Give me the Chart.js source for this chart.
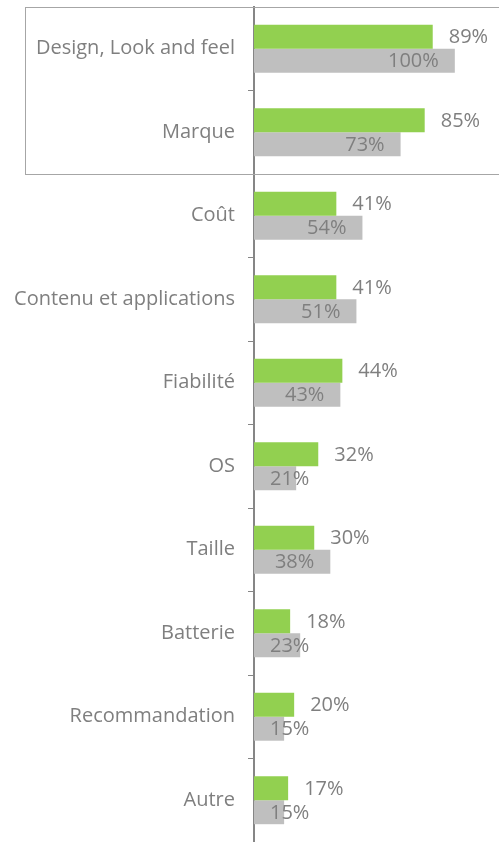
<!DOCTYPE html>
<html>
<head>
<meta charset="utf-8">
<script src="https://cdn.jsdelivr.net/npm/chart.js@4/dist/chart.umd.min.js"></script>
<style>
html,body{margin:0;padding:0;background:#fff;}
#wrap{width:499px;height:842px;position:relative;}
</style>
</head>
<body>
<div id="wrap"><canvas id="c"></canvas></div>
<script>
const categories = ["Design, Look and feel","Marque","Coût","Contenu et applications","Fiabilité","OS","Taille","Batterie","Recommandation","Autre"];
const seriesGreen = [89,85,41,41,44,32,30,18,20,17];
const seriesGray = [100,73,54,51,43,21,38,23,15,15];

const FONT = "'Open Sans', 'Noto Sans', sans-serif";
const TEXT = "#7f7f7f";

const labelPlugin = {
  id: 'valueLabels',
  afterDatasetsDraw(chart) {
    const ctx = chart.ctx;
    ctx.save();
    ctx.font = "20px " + FONT;
    ctx.fillStyle = TEXT;
    ctx.textBaseline = 'middle';
    chart.data.datasets.forEach((ds, di) => {
      const meta = chart.getDatasetMeta(di);
      meta.data.forEach((bar, i) => {
        const txt = ds.data[i] + '%';
        const w = ctx.measureText(txt).width;
        ctx.textAlign = 'left';
        if (di === 0) {
          ctx.fillText(txt, bar.x + 16, bar.y + 1);
        } else {
          let left = bar.x - 16 - w;
          if (left < bar.base + 16) left = bar.base + 16;
          ctx.fillText(txt, left, bar.y + 1);
        }
      });
    });
    ctx.restore();
  }
};

const boxPlugin = {
  id: 'box',
  afterDraw(chart) {
    const y = chart.scales.y;
    const half = (y.getPixelForValue(1) - y.getPixelForValue(0)) / 2;
    const top = y.getPixelForValue(0) - half;
    const bottom = y.getPixelForValue(1) + half;
    const ctx = chart.ctx;
    ctx.save();
    ctx.strokeStyle = '#a6a6a6';
    ctx.lineWidth = 1;
    ctx.strokeRect(25.5, Math.round(top) + 0.5, 520, Math.round(bottom - top));
    ctx.restore();
  }
};

new Chart(document.getElementById('c'), {
  type: 'bar',
  data: {
    labels: categories,
    datasets: [
      { data: seriesGreen, backgroundColor: '#92d050', categoryPercentage: 0.574, barPercentage: 1 },
      { data: seriesGray, backgroundColor: '#bfbfbf', categoryPercentage: 0.574, barPercentage: 1 }
    ]
  },
  options: {
    indexAxis: 'y',
    responsive: true,
    maintainAspectRatio: false,
    animation: false,
    layout: { padding: { top: 7, bottom: 0, left: 0, right: 0 } },
    plugins: { legend: { display: false }, tooltip: { enabled: false } },
    scales: {
      x: { display: false, min: 0, max: 122 },
      y: {
        afterFit(scale) { scale.width = 254; scale.paddingTop = 0; scale.paddingBottom = 0; },
        grid: { offset: true, drawOnChartArea: false, drawTicks: true, tickLength: 6, color: '#868686', lineWidth: 1 },
        border: { display: true, color: '#868686', width: 2 },
        ticks: { color: TEXT, font: { family: FONT, size: 20 }, padding: 13, autoSkip: false }
      }
    }
  },
  plugins: [labelPlugin, boxPlugin]
});
</script>
</body>
</html>
